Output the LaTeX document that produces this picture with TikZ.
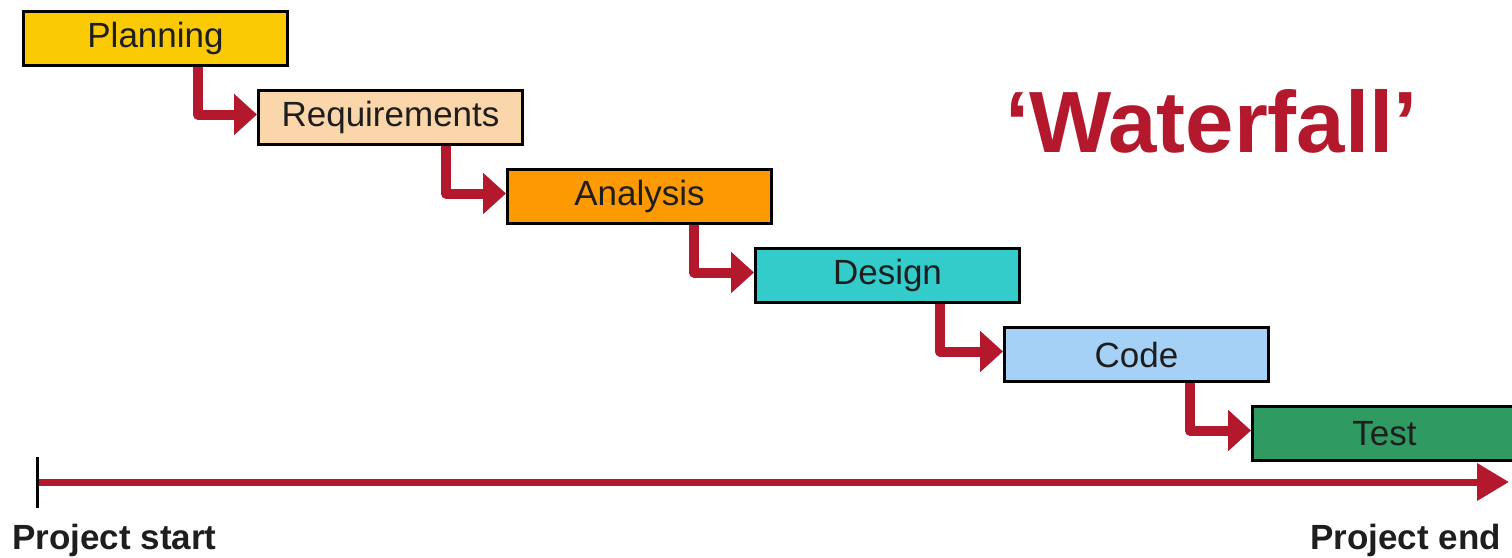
\documentclass[tikz,border=0pt]{standalone}
\usepackage{fontspec}
\setmainfont{Liberation Sans}
\usetikzlibrary{arrows.meta,calc}
\definecolor{wfred}{HTML}{B3182C}
\definecolor{plancol}{HTML}{FACB04}
\definecolor{reqcol}{HTML}{FBD6AA}
\definecolor{anacol}{HTML}{FD9A02}
\definecolor{descol}{HTML}{33CCCB}
\definecolor{codecol}{HTML}{A5D1F7}
\definecolor{testcol}{HTML}{2F9A62}
\definecolor{boxtext}{HTML}{1E1E1E}
\begin{document}
\begin{tikzpicture}[x=1pt,y=-1pt,
  phase/.style={draw=black,line width=3pt,minimum width=264pt,minimum height=54pt,
    inner sep=0pt,anchor=north west,text=boxtext,font=\fontsize{35}{40}\selectfont},
  flow/.style={draw=wfred,line width=10pt,line join=round,
    -{Triangle[length=23pt,width=40pt]}},
  endlabel/.style={inner sep=0pt,text=boxtext,font=\bfseries\fontsize{35}{40}\selectfont}]
\useasboundingbox (0,0) rectangle (1512,557);

% phase boxes
\node[phase,fill=plancol] (plan) at (22,10)   {Planning};
\node[phase,fill=reqcol]  (req)  at (257,89)  {Requirements};
\node[phase,fill=anacol]  (ana)  at (506,168) {Analysis};
\node[phase,fill=descol]  (des)  at (754,247) {Design};
\node[phase,fill=codecol] (code) at (1003,326) {Code};
\node[phase,fill=testcol] (test) at (1251,405) {Test};

% elbow arrows between phases
\draw[flow] ($(plan.south west)+(176,0)$) |- ($(req.west)+(0,-3)$);
\draw[flow] ($(req.south west)+(189,0)$)  |- ($(ana.west)+(0,-3)$);
\draw[flow] ($(ana.south west)+(188,0)$)  |- ($(des.west)+(0,-3)$);
\draw[flow] ($(des.south west)+(186,0)$)  |- ($(code.west)+(0,-3)$);
\draw[flow] ($(code.south west)+(187,0)$) |- ($(test.west)+(0,-3)$);

% title
\node[inner sep=0pt,anchor=base west,text=wfred,font=\bfseries\fontsize{87}{90}\selectfont]
  (title) at (1005,152) {‘Waterfall’};

% time line
\coordinate (t0) at (37,482);
\coordinate (t1) at (1509,482);
\draw[wfred,line width=7pt,-{Triangle[length=32pt,width=36pt]}] (t0) -- (t1);
\draw[black,line width=3pt] ($(t0)+(0,-25)$) -- ($(t0)+(0,26)$);
\node[endlabel,anchor=base west] (start) at (12,549) {Project start};
\node[endlabel,anchor=base east] (end) at (1501,549) {Project end};
\end{tikzpicture}
\end{document}
